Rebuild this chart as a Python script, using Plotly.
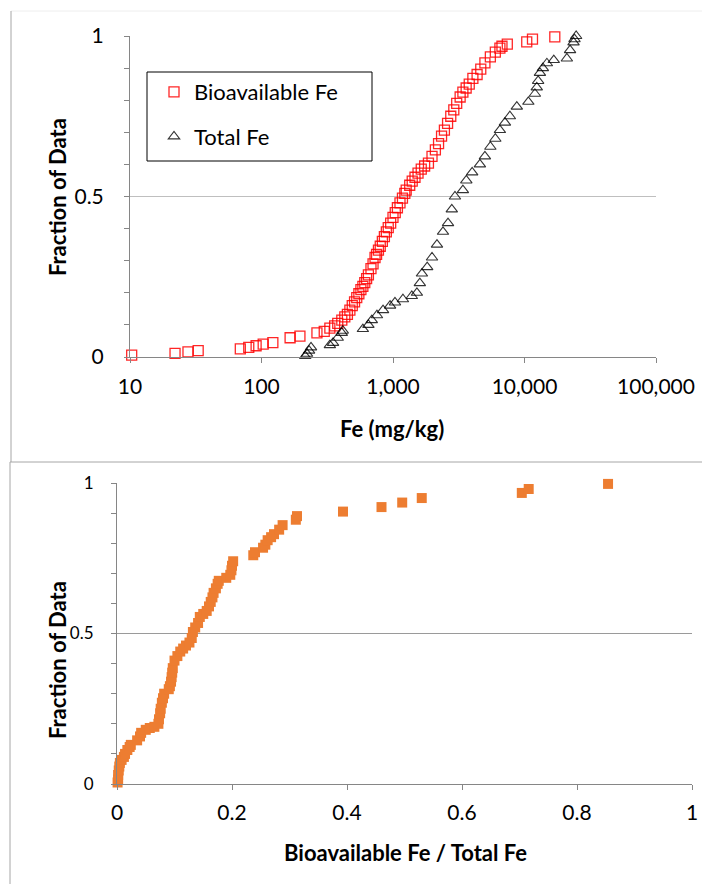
import plotly.graph_objects as go

W, H = 710, 884

# ---------------- data ----------------
bio_fe = [10.3, 22, 27.6, 33, 69, 80, 91, 103, 122, 165, 196, 264, 300, 331, 360, 380, 408, 430, 450,
          470, 490, 510, 530, 550, 570, 590, 610, 630, 650, 680, 705, 730, 750, 775, 800, 830, 860, 890,
          920, 960, 1000, 1040, 1080, 1130, 1180, 1230, 1260, 1340, 1400, 1470, 1550, 1640, 1740, 1860,
          1980, 2100, 2220, 2340, 2460, 2600, 2750, 2900, 3050, 3240, 3400, 3600, 3800, 4050, 4360, 4650,
          5000, 5500, 6000, 6500, 6740, 7400, 10400, 11500, 17000]
bio_frac = [0.006, 0.011, 0.016, 0.02, 0.025, 0.03, 0.035, 0.04, 0.045, 0.06, 0.065, 0.075, 0.08, 0.09,
            0.097, 0.105, 0.115, 0.125, 0.133, 0.146, 0.16, 0.172, 0.185, 0.197, 0.21, 0.22, 0.232, 0.244,
            0.256, 0.275, 0.29, 0.31, 0.32, 0.333, 0.345, 0.36, 0.375, 0.39, 0.403, 0.417, 0.435, 0.45,
            0.465, 0.48, 0.495, 0.51, 0.52, 0.535, 0.548, 0.56, 0.573, 0.585, 0.595, 0.604, 0.625, 0.645,
            0.665, 0.688, 0.707, 0.728, 0.75, 0.77, 0.79, 0.81, 0.825, 0.838, 0.85, 0.868, 0.88, 0.897,
            0.916, 0.935, 0.95, 0.962, 0.968, 0.975, 0.982, 0.99, 0.997]

tot_fe = [215, 222, 230, 238, 331, 350, 380, 408, 415, 590, 650, 690, 755, 840, 950, 1035, 1190, 1390,
          1520, 1600, 1660, 1820, 1980, 2160, 2400, 2620, 2800, 2960, 3400, 3610, 4000, 4580, 5000, 5500,
          6000, 6500, 7100, 7740, 8740, 10700, 12000, 12400, 12700, 13100, 13800, 14800, 16700, 21000,
          22200, 23600, 24000, 24700]
tot_frac = [0.003, 0.01, 0.02, 0.03, 0.037, 0.044, 0.06, 0.075, 0.082, 0.087, 0.1, 0.115, 0.13, 0.146,
            0.16, 0.17, 0.18, 0.19, 0.2, 0.23, 0.26, 0.28, 0.31, 0.35, 0.39, 0.417, 0.46, 0.5, 0.52, 0.55,
            0.575, 0.6, 0.625, 0.655, 0.68, 0.707, 0.73, 0.75, 0.78, 0.795, 0.82, 0.84, 0.86, 0.885, 0.9,
            0.915, 0.925, 0.93, 0.956, 0.98, 0.99, 1.0]

ratio = [0.001, 0.002, 0.002, 0.003, 0.004, 0.005, 0.008, 0.012, 0.014, 0.018, 0.022, 0.024, 0.035,
         0.040, 0.042, 0.050, 0.057, 0.065, 0.072, 0.073, 0.075, 0.076, 0.078, 0.080, 0.082, 0.090,
         0.092, 0.094, 0.095, 0.096, 0.097, 0.100, 0.105, 0.110, 0.115, 0.120, 0.126, 0.130, 0.132,
         0.136, 0.141, 0.144, 0.150, 0.156, 0.160, 0.163, 0.166, 0.168, 0.172, 0.175, 0.177, 0.190,
         0.197, 0.199, 0.200, 0.202, 0.237, 0.240, 0.254, 0.258, 0.262, 0.268, 0.273, 0.282, 0.288,
         0.311, 0.313, 0.393, 0.460, 0.496, 0.530, 0.704, 0.716, 0.854]
ratio_frac = [0.005, 0.015, 0.03, 0.045, 0.058, 0.07, 0.08, 0.09, 0.10, 0.113, 0.123, 0.13, 0.145,
              0.158, 0.17, 0.18, 0.186, 0.19, 0.2, 0.215, 0.235, 0.25, 0.27, 0.285, 0.30, 0.315, 0.325,
              0.34, 0.355, 0.37, 0.385, 0.41, 0.425, 0.44, 0.45, 0.46, 0.47, 0.485, 0.505, 0.52, 0.535,
              0.555, 0.565, 0.575, 0.59, 0.605, 0.62, 0.635, 0.65, 0.665, 0.675, 0.685, 0.695, 0.71,
              0.725, 0.74, 0.76, 0.77, 0.785, 0.795, 0.81, 0.82, 0.83, 0.845, 0.86, 0.878, 0.89, 0.905,
              0.92, 0.935, 0.95, 0.967, 0.98, 0.997]

fe_tickvals = [10, 100, 1000, 10000, 100000]
fe_ticktext = ["10", "100", "1,000", "10,000", "100,000"]

# ---------------- helpers ----------------
OFF = 8  # page body margin in the browser

def px_x(p):
    return (p - OFF) / W

def px_y(p):
    return 1 - (p - OFF) / H

FONT = "Lato, 'Open Sans', sans-serif"

fig = go.Figure()

fig.add_trace(go.Scatter(
    x=bio_fe, y=bio_frac, mode="markers", name="Bioavailable Fe",
    xaxis="x", yaxis="y", cliponaxis=False, legendgroup="a",
    marker=dict(symbol="square-open", size=10, color="rgba(255,0,0,0.85)",
                line=dict(width=1.3, color="rgba(255,0,0,0.85)")),
))
fig.add_trace(go.Scatter(
    x=tot_fe, y=tot_frac, mode="markers", name="Total Fe",
    xaxis="x", yaxis="y", cliponaxis=False, legendgroup="b",
    marker=dict(symbol="triangle-up-open", size=10, color="rgba(0,0,0,0.8)",
                line=dict(width=1.1, color="rgba(0,0,0,0.8)")),
))
fig.add_trace(go.Scatter(
    x=ratio, y=ratio_frac, mode="markers", name="Ratio",
    xaxis="x2", yaxis="y2", cliponaxis=False, showlegend=False,
    marker=dict(symbol="square", size=10, color="#ED7D31"),
))

axis_common = dict(showline=True, linecolor="#868686", linewidth=1, ticks="outside",
                   tickcolor="#868686", ticklen=5, zeroline=False, automargin=False)

fig.update_layout(
    template="none",
    width=W, height=H,
    margin=dict(l=0, r=0, t=0, b=0, pad=0, autoexpand=False),
    paper_bgcolor="white", plot_bgcolor="white",
    font=dict(family=FONT, color="#000000"),
    showlegend=True,
    legend=dict(x=px_x(154), y=px_y(71), xanchor="left", yanchor="top",
                bgcolor="rgba(0,0,0,0)", borderwidth=0,
                font=dict(size=22, family=FONT), tracegroupgap=13),
    xaxis=dict(domain=[px_x(130), px_x(656)], anchor="y", type="log", range=[1, 5],
               tickvals=fe_tickvals, ticktext=fe_ticktext, showgrid=False,
               tickfont=dict(size=21), ticklabelstandoff=6, **axis_common),
    yaxis=dict(domain=[px_y(357), px_y(36)], anchor="x", range=[0, 1],
               tickvals=[0, 0.5, 1], ticktext=["0", "0.5", "1"],
               showgrid=True, gridcolor="#BFBFBF", gridwidth=1,
               minor=dict(dtick=0.1, ticks="outside", ticklen=5, tickcolor="#868686", showgrid=False),
               tickfont=dict(size=21), ticklabelstandoff=16, **axis_common),
    xaxis2=dict(domain=[px_x(117), px_x(692)], anchor="y2", range=[0, 1],
                tickvals=[0, 0.2, 0.4, 0.6, 0.8, 1], ticktext=["0", "0.2", "0.4", "0.6", "0.8", "1"],
                showgrid=False, tickfont=dict(size=21), ticklabelstandoff=5, **axis_common),
    yaxis2=dict(domain=[px_y(784), px_y(483)], anchor="x2", range=[0, 1],
                tickvals=[0, 0.5, 1], ticktext=["0", "0.5", "1"],
                showgrid=True, gridcolor="#9A9A9A", gridwidth=1,
                minor=dict(dtick=0.1, ticks="outside", ticklen=5, tickcolor="#868686", showgrid=False),
                tickfont=dict(size=17), ticklabelstandoff=14, **axis_common),
)

# axis titles
ann = [
    dict(text="<b>Fraction of Data</b>", x=px_x(57), y=px_y(197), textangle=-90, font=dict(size=22)),
    dict(text="<b>Fe (mg/kg)</b>", x=px_x(392), y=px_y(428), font=dict(size=22)),
    dict(text="<b>Fraction of Data</b>", x=px_x(57), y=px_y(660), textangle=-90, font=dict(size=22)),
    dict(text="<b>Bioavailable Fe / Total Fe</b>", x=px_x(405), y=px_y(852), font=dict(size=22)),
]
for a in ann:
    fig.add_annotation(xref="paper", yref="paper", showarrow=False, xanchor="center", yanchor="middle", **a)

# panel borders and legend box
shapes = [
    dict(type="line", x0=px_x(11), x1=px_x(718), y0=px_y(11), y1=px_y(11), line=dict(color="#EEEEEE", width=1)),
    dict(type="line", x0=px_x(11), x1=px_x(11), y0=px_y(11), y1=px_y(462), line=dict(color="#A6A6A6", width=1)),
    dict(type="line", x0=px_x(10), x1=px_x(718), y0=px_y(462), y1=px_y(462), line=dict(color="#A6A6A6", width=1)),
    dict(type="line", x0=px_x(10), x1=px_x(10), y0=px_y(462), y1=px_y(892), line=dict(color="#A6A6A6", width=1)),
    dict(type="rect", x0=px_x(147), x1=px_x(372), y0=px_y(72), y1=px_y(161), line=dict(color="#000000", width=1)),
]
for s in shapes:
    fig.add_shape(xref="paper", yref="paper", **s)

fig.write_html("out.html")
